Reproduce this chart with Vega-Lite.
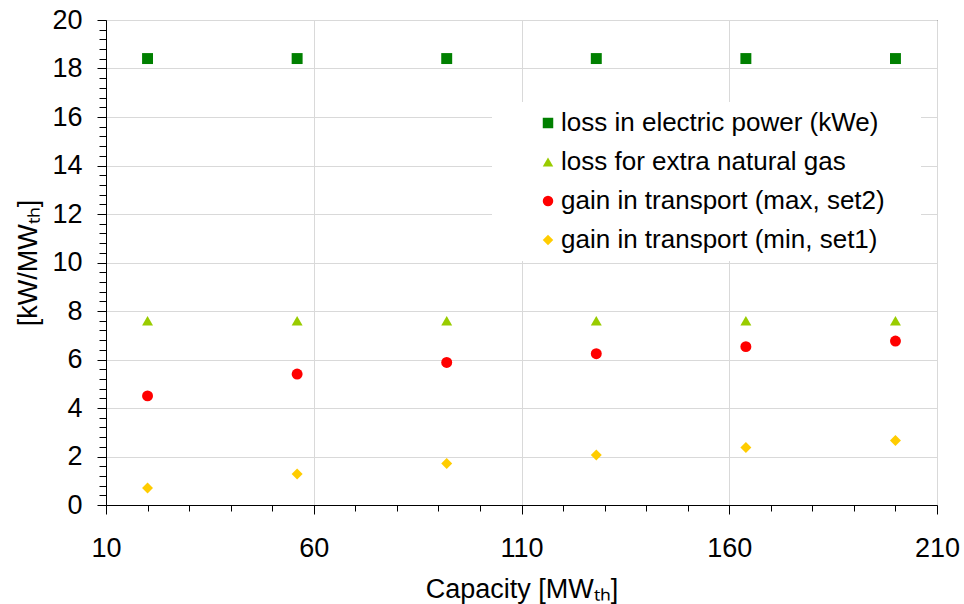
{
  "$schema": "https://vega.github.io/schema/vega-lite/v6.json",
  "width": 831,
  "height": 485,
  "autosize": {"type": "none"},
  "padding": {"left": 106, "top": 20, "right": 27, "bottom": 99},
  "background": "white",
  "config": {
    "font": "Liberation Sans",
    "view": {"stroke": "black", "strokeWidth": 1},
    "axis": {
      "domainColor": "black",
      "domainWidth": 1,
      "tickColor": "black",
      "tickWidth": 1,
      "labelColor": "black",
      "labelFontSize": 27,
      "labelFont": "Liberation Sans",
      "titleFont": "Liberation Sans",
      "titleFontSize": 27,
      "titleFontWeight": "normal",
      "titleColor": "black",
      "gridColor": "#d9d9d9",
      "gridWidth": 1,
      "labelOverlap": false,
      "labelFlush": false
    }
  },
  "data": {
    "values": [
      {"series": "loss in electric power (kWe)", "capacity": 20, "value": 18.41},
      {"series": "loss in electric power (kWe)", "capacity": 56, "value": 18.41},
      {"series": "loss in electric power (kWe)", "capacity": 92, "value": 18.41},
      {"series": "loss in electric power (kWe)", "capacity": 128, "value": 18.41},
      {"series": "loss in electric power (kWe)", "capacity": 164, "value": 18.41},
      {"series": "loss in electric power (kWe)", "capacity": 200, "value": 18.41},
      {"series": "loss for extra natural gas", "capacity": 20, "value": 7.6},
      {"series": "loss for extra natural gas", "capacity": 56, "value": 7.6},
      {"series": "loss for extra natural gas", "capacity": 92, "value": 7.6},
      {"series": "loss for extra natural gas", "capacity": 128, "value": 7.6},
      {"series": "loss for extra natural gas", "capacity": 164, "value": 7.6},
      {"series": "loss for extra natural gas", "capacity": 200, "value": 7.6},
      {"series": "gain in transport (max, set2)", "capacity": 20, "value": 4.5},
      {"series": "gain in transport (max, set2)", "capacity": 56, "value": 5.4},
      {"series": "gain in transport (max, set2)", "capacity": 92, "value": 5.88},
      {"series": "gain in transport (max, set2)", "capacity": 128, "value": 6.24},
      {"series": "gain in transport (max, set2)", "capacity": 164, "value": 6.53},
      {"series": "gain in transport (max, set2)", "capacity": 200, "value": 6.76},
      {"series": "gain in transport (min, set1)", "capacity": 20, "value": 0.7},
      {"series": "gain in transport (min, set1)", "capacity": 56, "value": 1.28},
      {"series": "gain in transport (min, set1)", "capacity": 92, "value": 1.71},
      {"series": "gain in transport (min, set1)", "capacity": 128, "value": 2.06},
      {"series": "gain in transport (min, set1)", "capacity": 164, "value": 2.37},
      {"series": "gain in transport (min, set1)", "capacity": 200, "value": 2.66}
    ]
  },
  "mark": {"type": "point", "filled": true, "opacity": 1, "size": 120},
  "encoding": {
    "x": {
      "field": "capacity",
      "type": "quantitative",
      "scale": {"domain": [10, 210], "nice": false, "zero": false},
      "axis": {
        "title": "Capacity [MWₜₕ]",
        "values": [10, 20, 30, 40, 50, 60, 70, 80, 90, 100, 110, 120, 130, 140, 150, 160, 170, 180, 190, 200, 210],
        "labelExpr": "datum.value % 50 === 10 ? format(datum.value, 'd') : ''",
        "tickSize": {"condition": {"test": "datum.value % 50 === 10", "value": 9}, "value": 6},
        "gridOpacity": {"condition": {"test": "datum.value % 50 === 10", "value": 1}, "value": 0},
        "labelPadding": 21,
        "titlePadding": 15
      }
    },
    "y": {
      "field": "value",
      "type": "quantitative",
      "scale": {"domain": [0, 20], "nice": false, "zero": true},
      "axis": {
        "title": "[kW/MWₜₕ]",
        "values": [0, 0.4, 0.8, 1.2, 1.6, 2, 2.4, 2.8, 3.2, 3.6, 4, 4.4, 4.8, 5.2, 5.6, 6, 6.4, 6.8, 7.2, 7.6, 8, 8.4, 8.8, 9.2, 9.6, 10, 10.4, 10.8, 11.2, 11.6, 12, 12.4, 12.8, 13.2, 13.6, 14, 14.4, 14.8, 15.2, 15.6, 16, 16.4, 16.8, 17.2, 17.6, 18, 18.4, 18.8, 19.2, 19.6, 20],
        "labelExpr": "datum.value % 2 === 0 ? format(datum.value, 'd') : ''",
        "tickSize": {"condition": {"test": "datum.value % 2 === 0", "value": 9}, "value": 7},
        "gridOpacity": {"condition": {"test": "datum.value % 2 === 0", "value": 1}, "value": 0},
        "labelPadding": 15,
        "titlePadding": 9
      }
    },
    "color": {
      "field": "series",
      "type": "nominal",
      "scale": {
        "domain": ["loss in electric power (kWe)", "loss for extra natural gas", "gain in transport (max, set2)", "gain in transport (min, set1)"],
        "range": ["#008000", "#99cc00", "#ff0000", "#ffcc00"]
      },
      "legend": {
        "title": "\u00a0",
        "titleOrient": "right",
        "titlePadding": 28,
        "titleFontSize": 26,
        "orient": "none",
        "legendX": 386,
        "legendY": 82,
        "fillColor": "white",
        "padding": 8,
        "symbolOffset": 35,
        "labelOffset": 0,
        "labelFontSize": 26,
        "labelColor": "black",
        "labelLimit": 600,
        "rowPadding": 13,
        "symbolSize": 110,
        "symbolStrokeWidth": 0
      }
    },
    "shape": {
      "field": "series",
      "type": "nominal",
      "scale": {
        "domain": ["loss in electric power (kWe)", "loss for extra natural gas", "gain in transport (max, set2)", "gain in transport (min, set1)"],
        "range": ["square", "triangle-up", "circle", "diamond"]
      },
      "legend": {
        "title": "\u00a0"
      }
    }
  }
}
